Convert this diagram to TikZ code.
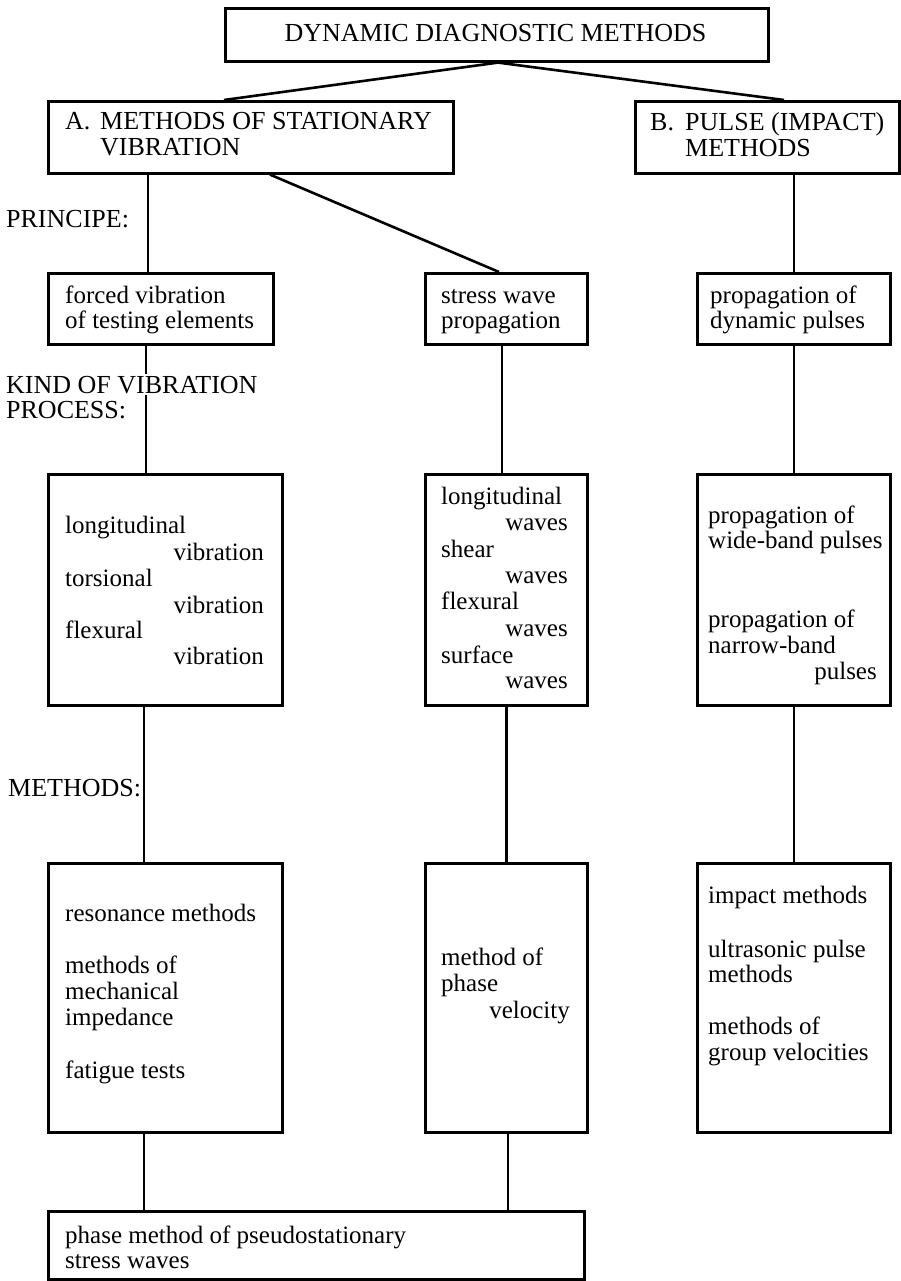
\documentclass[tikz,border=0pt]{standalone}
\usepackage{fontspec}
\setmainfont{Liberation Serif}
\begin{document}
\begin{tikzpicture}[x=1pt,y=-1pt,
  box/.style={draw, line width=2.6pt, inner sep=0pt, anchor=north west},
  conn/.style={line width=2.6pt},
  txt/.style={inner sep=0pt, anchor=base west, font=\fontsize{25}{26}\selectfont},
  rtxt/.style={txt, anchor=base east},
  captxt/.style={txt, font=\fontsize{26}{27}\selectfont},
  ccaptxt/.style={captxt, anchor=base}]
\useasboundingbox (0,0) rectangle (900,1281);
% boxes
\node[box, minimum width=543pt, minimum height=53pt] (top) at (224,7) {};
\node[box, minimum width=405pt, minimum height=72pt] (A) at (47,100) {};
\node[box, minimum width=264pt, minimum height=72pt] (B) at (634,100) {};
\node[box, minimum width=225pt, minimum height=71pt] (F) at (47,272) {};
\node[box, minimum width=162pt, minimum height=71pt] (S) at (424,272) {};
\node[box, minimum width=193pt, minimum height=71pt] (P) at (696,272) {};
\node[box, minimum width=234pt, minimum height=231pt] (V) at (47,473) {};
\node[box, minimum width=162pt, minimum height=231pt] (W) at (424,473) {};
\node[box, minimum width=193pt, minimum height=231pt] (U) at (696,473) {};
\node[box, minimum width=234pt, minimum height=269pt] (M1) at (47,862) {};
\node[box, minimum width=162pt, minimum height=269pt] (M2) at (424,862) {};
\node[box, minimum width=193pt, minimum height=269pt] (M3) at (696,862) {};
\node[box, minimum width=536pt, minimum height=68pt] (BOT) at (47,1210) {};
% column coordinates
\coordinate (xT) at (498,0);
\coordinate (xA) at (224,0);
\coordinate (xB) at (784,0);
\coordinate (x1) at (148,0);
\coordinate (x2) at (146,0);
\coordinate (x3) at (144,0);
\coordinate (x4) at (144,0);
\coordinate (xS) at (270,0);
\coordinate (xS2) at (499,0);
\coordinate (xw) at (502,0);
\coordinate (xph) at (508,0);
% connectors
\draw[conn] (top.south -| xT) -- (A.north -| xA);
\draw[conn] (top.south -| xT) -- (B.north -| xB);
\draw[conn] (A.south -| x1) -- (F.north -| x1);
\draw[conn] (A.south -| xS) -- (S.north -| xS2);
\draw[conn] (B.south -| P.north) -- (P.north);
\draw[conn] (F.south -| x2) -- (V.north -| x2);
\draw[conn] (S.south -| xw) -- (W.north -| xw);
\draw[conn] (P.south) -- (U.north);
\draw[conn] (V.south -| x3) -- (M1.north -| x3);
\draw[conn] (W.south) -- (M2.north);
\draw[conn] (U.south) -- (M3.north);
\draw[conn] (M1.south -| x4) -- (BOT.north -| x4);
\draw[conn] (M2.south -| xph) -- (BOT.north -| xph);
% texts
\node[ccaptxt] (t0) at (495.5,42) {DYNAMIC DIAGNOSTIC METHODS};
\node[captxt] (ta1) at (65,130) {A.};
\node[captxt] (ta2) at (100,130) {METHODS OF STATIONARY};
\node[captxt] (ta3) at (100,156) {VIBRATION};
\node[captxt] (tb1) at (650,131) {B.};
\node[captxt] (tb2) at (685,131) {PULSE (IMPACT)};
\node[captxt] (tb3) at (685,157) {METHODS};
\node[captxt] (lp) at (6,228) {PRINCIPE:};
\node[txt] (tf1) at (65,303) {forced vibration};
\node[txt] (tf2) at (65,328) {of testing elements};
\node[txt] (ts1) at (441,303) {stress wave};
\node[txt] (ts2) at (441,328) {propagation};
\node[txt] (tp1) at (710,303) {propagation of};
\node[txt] (tp2) at (710,328) {dynamic pulses};
\node[captxt, fill=white, inner ysep=2pt] (lk1) at (6,393) {KIND OF VIBRATION};
\node[captxt] (lk2) at (6,418) {PROCESS:};
\node[txt] (tv1) at (65,533) {longitudinal};
\node[rtxt] (tv2) at (264,560) {vibration};
\node[txt] (tv3) at (65,586) {torsional};
\node[rtxt] (tv4) at (264,613) {vibration};
\node[txt] (tv5) at (65,638) {flexural};
\node[rtxt] (tv6) at (264,664) {vibration};
\node[txt] (tw1) at (441,504) {longitudinal};
\node[rtxt] (tw2) at (568,530) {waves};
\node[txt] (tw3) at (441,557) {shear};
\node[rtxt] (tw4) at (568,583) {waves};
\node[txt] (tw5) at (441,609) {flexural};
\node[rtxt] (tw6) at (568,636) {waves};
\node[txt] (tw7) at (441,663) {surface};
\node[rtxt] (tw8) at (568,688) {waves};
\node[txt] (tu1) at (708,523) {propagation of};
\node[txt] (tu2) at (708,548) {wide-band pulses};
\node[txt] (tu3) at (708,627) {propagation of};
\node[txt] (tu4) at (708,653) {narrow-band};
\node[rtxt] (tu5) at (877,679) {pulses};
\node[captxt] (lm) at (8,796) {METHODS:};
\node[txt] (tm1) at (65,921) {resonance methods};
\node[txt] (tm2) at (65,973) {methods of};
\node[txt] (tm3) at (65,999) {mechanical};
\node[txt] (tm4) at (65,1025) {impedance};
\node[txt] (tm5) at (65,1078) {fatigue tests};
\node[txt] (tn1) at (441,965) {method of};
\node[txt] (tn2) at (441,991) {phase};
\node[rtxt] (tn3) at (570,1018) {velocity};
\node[txt] (to1) at (708,903) {impact methods};
\node[txt] (to2) at (708,957) {ultrasonic pulse};
\node[txt] (to3) at (708,982) {methods};
\node[txt] (to4) at (708,1034) {methods of};
\node[txt] (to5) at (708,1060) {group velocities};
\node[txt] (tz1) at (65,1243) {phase method of pseudostationary};
\node[txt] (tz2) at (65,1268) {stress waves};
\end{tikzpicture}
\end{document}
